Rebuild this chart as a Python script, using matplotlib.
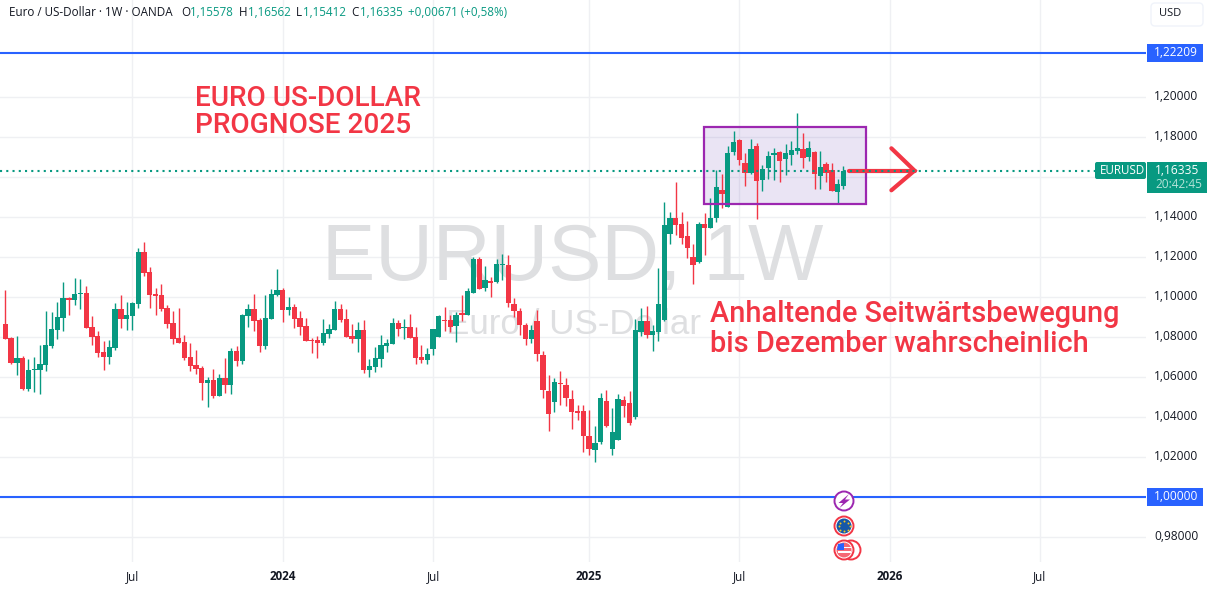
import matplotlib
matplotlib.use('Agg')
import matplotlib.pyplot as plt
from matplotlib.patches import Rectangle, FancyBboxPatch, Circle, Polygon

# weekly EURUSD candles
opens = [1.08665, 1.07965, 1.06715, 1.06965, 1.05415, 1.06365, 1.06365, 1.06615, 1.07565, 1.08365,
         1.08965, 1.09965, 1.09865, 1.10165, 1.10215, 1.08515, 1.08065, 1.07265, 1.07015, 1.07465,
         1.09415, 1.08915, 1.09065, 1.09665, 1.12265, 1.11265, 1.10165, 1.10115, 1.09465, 1.08715,
         1.07965, 1.07765, 1.07015, 1.06615, 1.06465, 1.05715, 1.05865, 1.05065, 1.05965, 1.05615,
         1.07315, 1.06815, 1.09065, 1.09415, 1.08865, 1.07565, 1.08915, 1.10115, 1.10365, 1.09365,
         1.09515, 1.08965, 1.08565, 1.07865, 1.07865, 1.07715, 1.08165, 1.08365, 1.09415, 1.08915,
         1.08065, 1.07915, 1.08365, 1.06365, 1.06515, 1.06915, 1.07565, 1.07665, 1.08715, 1.08480,
         1.08515, 1.08015, 1.07015, 1.06865, 1.07415, 1.08015, 1.08865, 1.08865, 1.08565, 1.09215,
         1.09115, 1.10215, 1.11915, 1.10465, 1.10815, 1.10765, 1.11615, 1.11615, 1.09665, 1.09315,
         1.08615, 1.07915, 1.08815, 1.07115, 1.05315, 1.04765, 1.05715, 1.05615, 1.04915, 1.04315,
         1.04315, 1.03065, 1.02365, 1.02765, 1.04815, 1.02415, 1.02865, 1.04865, 1.04715, 1.04015,
         1.08265, 1.08815, 1.08115, 1.08265, 1.08865, 1.13165, 1.13965, 1.13665, 1.13065, 1.12015,
         1.11765, 1.13665, 1.13465, 1.13965, 1.15365, 1.14515, 1.17265, 1.17865, 1.16715, 1.16215,
         1.17565, 1.15865, 1.16465, 1.17115, 1.17265, 1.16915, 1.17115, 1.17315, 1.17415, 1.17015,
         1.17265, 1.16065, 1.16665, 1.16365, 1.15265, 1.15578]
highs = [1.10365, 1.08015, 1.08065, 1.07065, 1.06915, 1.07015, 1.07615, 1.09315, 1.09265, 1.09765,
         1.10765, 1.10015, 1.10965, 1.10915, 1.10565, 1.09065, 1.08315, 1.07815, 1.07865, 1.09715,
         1.10115, 1.09765, 1.09765, 1.12465, 1.12765, 1.11515, 1.10465, 1.10665, 1.09615, 1.09315,
         1.09465, 1.08115, 1.07715, 1.07365, 1.06565, 1.06015, 1.06415, 1.06165, 1.06965, 1.07465,
         1.07565, 1.09165, 1.09665, 1.10165, 1.08965, 1.10115, 1.10415, 1.11415, 1.10465, 1.10015,
         1.09665, 1.09315, 1.08965, 1.07965, 1.08065, 1.08915, 1.08665, 1.09815, 1.09665, 1.09415,
         1.08665, 1.08765, 1.08865, 1.06915, 1.07515, 1.08115, 1.07915, 1.08965, 1.08865, 1.08915,
         1.09165, 1.08515, 1.07615, 1.07465, 1.08415, 1.09115, 1.09515, 1.09115, 1.09265, 1.10115,
         1.10465, 1.12015, 1.12015, 1.11565, 1.11015, 1.11915, 1.12165, 1.12115, 1.09965, 1.09465,
         1.08715, 1.08615, 1.09365, 1.07315, 1.06115, 1.05965, 1.06315, 1.05965, 1.05365, 1.04615,
         1.04615, 1.04365, 1.03565, 1.05215, 1.05365, 1.04465, 1.05165, 1.05065, 1.05315, 1.08915,
         1.09465, 1.09565, 1.08615, 1.11465, 1.14765, 1.14265, 1.15765, 1.14265, 1.13815, 1.12665,
         1.13765, 1.14215, 1.14965, 1.16365, 1.16165, 1.17565, 1.18315, 1.17915, 1.17215, 1.17915,
         1.17715, 1.16615, 1.17315, 1.17465, 1.17315, 1.17665, 1.17815, 1.19215, 1.18215, 1.17815,
         1.17315, 1.17315, 1.16765, 1.16715, 1.15915, 1.16562]
lows = [1.07915, 1.06665, 1.06115, 1.05365, 1.05315, 1.05265, 1.05165, 1.06315, 1.07465, 1.07915,
        1.08315, 1.09115, 1.09615, 1.09415, 1.08465, 1.07615, 1.07015, 1.06365, 1.06665, 1.07365,
        1.08465, 1.08365, 1.08365, 1.09465, 1.11065, 1.09465, 1.09115, 1.09315, 1.08465, 1.07665,
        1.07715, 1.06865, 1.06315, 1.06165, 1.04865, 1.04515, 1.04965, 1.05065, 1.05215, 1.05165,
        1.06565, 1.06665, 1.08515, 1.08315, 1.07265, 1.07415, 1.08915, 1.10065, 1.08765, 1.09115,
        1.08465, 1.08115, 1.07815, 1.07215, 1.06965, 1.07615, 1.07965, 1.08365, 1.08765, 1.08015,
        1.07715, 1.07265, 1.06215, 1.06015, 1.06265, 1.06515, 1.07265, 1.07665, 1.08065, 1.07915,
        1.07965, 1.06665, 1.06715, 1.06665, 1.07115, 1.08015, 1.08315, 1.08265, 1.07765, 1.08815,
        1.09115, 1.10215, 1.10415, 1.10315, 1.10015, 1.10715, 1.10865, 1.09515, 1.09015, 1.08115,
        1.07615, 1.07715, 1.06815, 1.04965, 1.03315, 1.04265, 1.04615, 1.04565, 1.03415, 1.03865,
        1.02265, 1.02115, 1.01765, 1.02665, 1.03515, 1.02115, 1.02865, 1.04015, 1.03615, 1.03915,
        1.08065, 1.07965, 1.07315, 1.07815, 1.08815, 1.12665, 1.13115, 1.12665, 1.11965, 1.10665,
        1.11715, 1.12115, 1.13465, 1.13765, 1.14465, 1.14515, 1.17115, 1.16615, 1.15565, 1.16165,
        1.13915, 1.15315, 1.15915, 1.15865, 1.15765, 1.16115, 1.16615, 1.17165, 1.16465, 1.16815,
        1.15415, 1.15415, 1.15765, 1.15315, 1.14715, 1.15412]
closes = [1.07915, 1.06715, 1.06965, 1.05415, 1.06365, 1.06415, 1.06665, 1.07615, 1.08415, 1.09015,
          1.09965, 1.09865, 1.10165, 1.10215, 1.08465, 1.08015, 1.07215, 1.07015, 1.07515, 1.09415,
          1.08915, 1.09115, 1.09715, 1.12265, 1.11215, 1.10115, 1.10065, 1.09415, 1.08665, 1.07915,
          1.07715, 1.06965, 1.06565, 1.06415, 1.05715, 1.05865, 1.05065, 1.05965, 1.05615, 1.07315,
          1.06815, 1.09115, 1.09415, 1.08815, 1.07565, 1.08965, 1.10165, 1.10365, 1.09365, 1.09515,
          1.08915, 1.08515, 1.07815, 1.07815, 1.07715, 1.08215, 1.08415, 1.09415, 1.08865, 1.08015,
          1.07915, 1.08365, 1.06365, 1.06565, 1.06965, 1.07615, 1.07715, 1.08715, 1.08415, 1.08515,
          1.07965, 1.06965, 1.06865, 1.07165, 1.08415, 1.09065, 1.08815, 1.08515, 1.09115, 1.09115,
          1.10315, 1.11915, 1.10415, 1.10865, 1.10715, 1.11665, 1.11665, 1.09715, 1.09315, 1.08615,
          1.07915, 1.08365, 1.07165, 1.05365, 1.04165, 1.05765, 1.05665, 1.04965, 1.04265, 1.04215,
          1.03065, 1.02415, 1.02715, 1.04965, 1.03565, 1.03265, 1.04915, 1.04565, 1.03715, 1.08365,
          1.08815, 1.08115, 1.08315, 1.09665, 1.13615, 1.13965, 1.13615, 1.12965, 1.12465, 1.11615,
          1.13665, 1.13465, 1.13965, 1.15515, 1.15165, 1.17215, 1.17765, 1.16865, 1.16215, 1.17415,
          1.15815, 1.16415, 1.17065, 1.17215, 1.16815, 1.17215, 1.17365, 1.17465, 1.16965, 1.17465,
          1.16165, 1.16515, 1.16215, 1.15315, 1.15665, 1.16335]

y_ticks = [1.20, 1.18, 1.14, 1.12, 1.10, 1.08, 1.06, 1.04, 1.02, 0.98]
y_grid = [1.20, 1.18, 1.16, 1.14, 1.12, 1.10, 1.08, 1.06, 1.04, 1.02, 1.00, 0.98]
x_ticks = [22, 48, 74, 101, 127, 153, 179]
x_labels = ['Jul', '2024', 'Jul', '2025', 'Jul', '2026', 'Jul']
x_bold = ['2024', '2025', '2026']
level_lines = [1.22209, 1.00000]
last_price = 1.16335

UP = '#089981'
DOWN = '#f23645'
BLUE = '#2962ff'
GRID = '#eff0f3'
INK = '#131722'
FONT = ['Open Sans', 'DejaVu Sans']

fig = plt.figure(figsize=(12.07, 5.9), dpi=100)
ax = fig.add_axes([0, 28 / 590, 1146 / 1207, 562 / 590])
ax.set_xlim(-0.917, 197.35)
ax.set_ylim(0.96765, 1.24865)
ax.set_xticks([])
ax.set_yticks([])
for s in ax.spines.values():
    s.set_visible(False)

for v in y_grid:
    ax.axhline(v, color=GRID, lw=1, zorder=0)
for v in x_ticks:
    ax.axvline(v, color=GRID, lw=1, zorder=0)

# watermark behind the candles
ax.text(0.5, 0.538, 'EURUSD, 1W', transform=ax.transAxes, ha='center', va='center',
        fontsize=57.5, color='#dedfe1', family='Liberation Sans', zorder=1)
ax.text(0.5, 0.423, 'Euro / US-Dollar', transform=ax.transAxes, ha='center', va='center',
        fontsize=25.2, color='#dedfe1', family='Liberation Sans', zorder=1)

# candles
for i in range(len(opens)):
    col = UP if closes[i] >= opens[i] else DOWN
    ax.vlines(i, lows[i], highs[i], color=col, lw=1, zorder=3)
    ax.bar(i, max(abs(closes[i] - opens[i]), 0.0005), bottom=min(opens[i], closes[i]),
           width=0.92, color=col, lw=0, zorder=3)

for v in level_lines:
    ax.axhline(v, color=BLUE, lw=1.5, zorder=4)

# range box and arrow
ax.add_patch(Rectangle((120.9, 1.14665), 28.0, 0.0385, facecolor='#5e35b1', alpha=0.13, lw=0, zorder=2))
ax.add_patch(Rectangle((120.9, 1.14665), 28.0, 0.0385, fill=False, edgecolor='#9c27b0', lw=1.6, zorder=5))
ax.plot([146, 157.3], [last_price, last_price], color=DOWN, lw=3, zorder=6, solid_capstyle='round')
ax.plot([153.3, 157.3, 153.3], [1.1745, 1.16335, 1.1535], color=DOWN, lw=3, zorder=6,
        solid_capstyle='round', solid_joinstyle='miter')
ax.axhline(last_price, color=UP, lw=1.5, dashes=(1, 2), zorder=7)

# everything else is placed in picture pixels
ov = fig.add_axes([0, 0, 1, 1], facecolor='none')
ov.set_xlim(0, 1207)
ov.set_ylim(590, 0)
ov.axis('off')

ov.text(195, 112, 'EURO US-DOLLAR\nPROGNOSE 2025', color=DOWN, fontsize=20.2, family='Roboto',
        weight='medium', va='center', ha='left', linespacing=1.0)
ov.text(710, 329, 'Anhaltende Seitwärtsbewegung\nbis Dezember wahrscheinlich', color=DOWN, fontsize=20.8,
        family='Roboto', weight='medium', va='center', ha='left', linespacing=1.05)

# header
head = [(9, 'Euro / US-Dollar · 1W · OANDA', INK), (181, 'O', INK), (190, '1,15578', UP), (239, 'H', INK),
        (248, '1,16562', UP), (296, 'L', INK), (303, '1,15412', UP), (351, 'C', INK), (360, '1,16335', UP),
        (408, '+0,00671 (+0,58%)', UP)]
for hx, txt, col in head:
    ov.text(hx, 12, txt, color=col, fontsize=8.4, family=FONT, va='center', ha='left')

# price axis
for v in y_ticks:
    yy = 137.3 + (1.18 - v) * 2000 - 1
    ov.text(1154, yy, f'{v:.5f}'.replace('.', ','), color=INK, fontsize=8.6, family=FONT, va='center', ha='left')

ov.add_patch(FancyBboxPatch((1151, 3), 52, 23, boxstyle='round,pad=0,rounding_size=4', fc='white',
                            ec='#f0f3fa', lw=1))
ov.text(1159, 14, 'USD', color=INK, fontsize=8, family=FONT, va='center', ha='left')

for v in level_lines:
    yy = 137.3 + (1.18 - v) * 2000
    ov.add_patch(Rectangle((1147, yy - 9), 56, 18, fc=BLUE, ec='none'))
    ov.text(1154, yy - 0.5, f'{v:.5f}'.replace('.', ','), color='white', fontsize=8.6, family=FONT,
            va='center', ha='left')

ov.add_patch(Rectangle((1147, 162), 60, 31, fc=UP, ec='none'))
ov.text(1155, 170, '1,16335', color='white', fontsize=8.6, family=FONT, va='center', ha='left')
ov.text(1155, 184, '20:42:45', color='#b5e3d8', fontsize=8.6, family=FONT, va='center', ha='left')
ov.add_patch(FancyBboxPatch((1095, 162), 51, 17, boxstyle='round,pad=0,rounding_size=2', fc=UP, ec='none'))
ov.text(1100, 170.5, 'EURUSD', color='white', fontsize=8.4, family=FONT, va='center', ha='left')

# time axis
for t, lab in zip(x_ticks, x_labels):
    px = 5.3 + 5.78 * t
    ov.text(px, 577, lab, color=INK, fontsize=8.4, family=FONT, ha='center', va='center',
            weight='bold' if lab in x_bold else 'normal')

# event icons under the last candle
ix = 844
ov.add_patch(Circle((ix, 501), 9.5, fc='white', ec='#9c27b0', lw=1.4, zorder=9))
ov.add_patch(Polygon([(849, 494), (838.5, 503), (843, 503), (839.5, 508), (850, 499.5),
                      (845, 499.5)], fc='#9c27b0', ec='none', zorder=10))
ov.add_patch(Circle((ix, 526), 9.5, fc='white', ec=DOWN, lw=1.4, zorder=9))
ov.add_patch(Circle((ix, 526), 7.5, fc='#1558a8', ec='none', zorder=10))
ov.scatter([844, 848, 849.5, 848, 844, 840, 838.5, 840], [521, 522.5, 526, 529.5, 531, 529.5, 526, 522.5],
           s=2, color='#f5c518', lw=0, zorder=11)
ov.add_patch(Circle((851, 550), 9.5, fc='white', ec=DOWN, lw=1.4, zorder=9))
ov.add_patch(Circle((ix, 550), 9.5, fc='white', ec=DOWN, lw=1.4, zorder=10))
ov.add_patch(Circle((ix, 550), 7.5, fc=DOWN, ec='none', alpha=0.75, zorder=11))
ov.add_patch(Rectangle((837.5, 546.5), 13, 1.8, fc='white', ec='none', zorder=12))
ov.add_patch(Rectangle((837.5, 551), 13, 1.8, fc='white', ec='none', zorder=12))
ov.add_patch(Polygon([(838, 544), (844, 543), (844, 550), (837, 550)], fc='#2962ff', ec='none', zorder=13))

fig.savefig('out.png', dpi=100)
